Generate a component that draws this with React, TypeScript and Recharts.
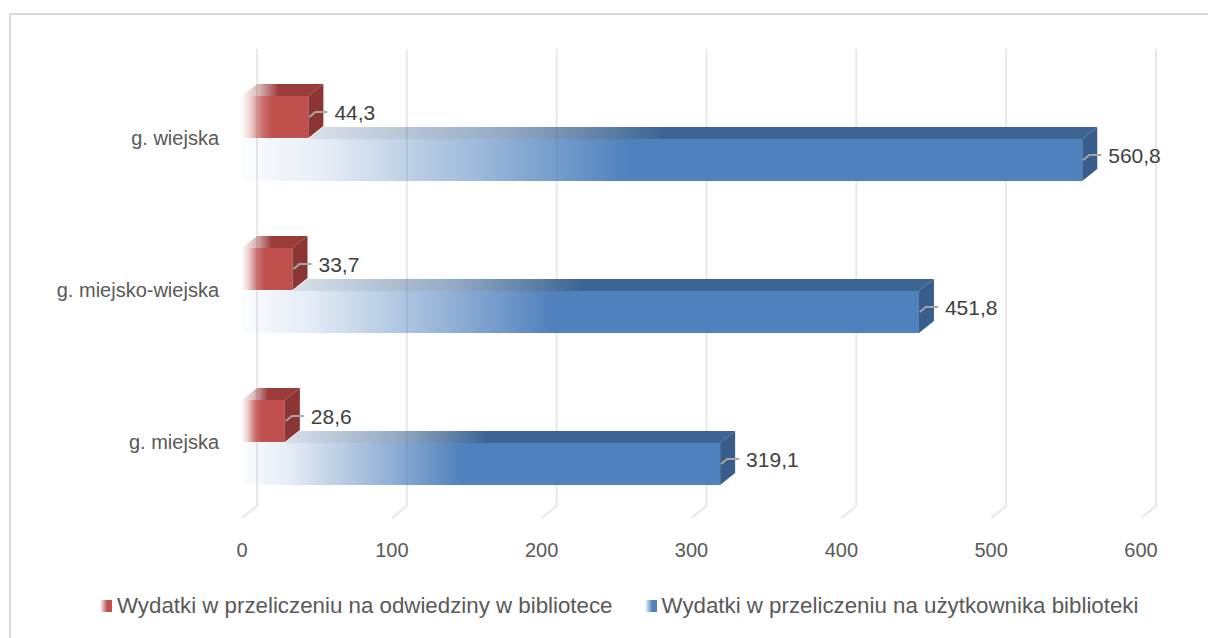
import { BarChart, Bar, XAxis, YAxis, CartesianGrid, Legend, LabelList } from 'recharts';

const categories = ['g. wiejska', 'g. miejsko-wiejska', 'g. miejska'];
const visitSpend = [44.3, 33.7, 28.6];
const userSpend = [560.8, 451.8, 319.1];
const xTicks = [0, 100, 200, 300, 400, 500, 600];

const seriesNames = {
  visit: 'Wydatki w przeliczeniu na odwiedziny w bibliotece',
  user: 'Wydatki w przeliczeniu na użytkownika biblioteki',
};

const data = categories.map((name, i) => ({
  name,
  visit: visitSpend[i],
  user: userSpend[i],
}));

// 3d depth of the bars / walls
const DX = 15;
const DY = 12;

const FONT = '"Liberation Sans", Arial, sans-serif';

const fmt = (v: number) => v.toFixed(1).replace('.', ',');

const RedBar = (props: any) => {
  const { x, y, width, height } = props;
  return (
    <g>
      <polygon
        points={`${x},${y} ${x + width},${y} ${x + width + DX},${y - DY} ${x + DX},${y - DY}`}
        fill="url(#redTop)"
      />
      <rect x={x} y={y} width={width} height={height} fill="url(#redFront)" />
      <polygon
        points={`${x + width},${y} ${x + width + DX},${y - DY} ${x + width + DX},${y + height - DY} ${x + width},${y + height}`}
        fill="#8b3634"
      />
    </g>
  );
};

const BlueBar = (props: any) => {
  const { x, y, width, height, payload } = props;
  // part of the top face hidden behind the red bar above it
  const rw = payload && payload.user ? (width * payload.visit) / payload.user : 0;
  return (
    <g>
      <polygon
        points={`${x + rw},${y} ${x + width},${y} ${x + width + DX},${y - DY} ${x + rw + DX},${y - DY}`}
        fill="url(#blueTop)"
      />
      <rect x={x} y={y} width={width} height={height} fill="url(#blueFront)" />
      <polygon
        points={`${x + width},${y} ${x + width + DX},${y - DY} ${x + width + DX},${y + height - DY} ${x + width},${y + height}`}
        fill="#385d8a"
      />
    </g>
  );
};

const DataLabel = (p: any) => {
  const vb = p.viewBox ?? p;
  const { x, y, width, height } = vb;
  if (x == null) return null;
  const end = x + width;
  const mid = y + height / 2;
  return (
    <g>
      <polyline
        points={`${end + 1},${mid} ${end + 7},${mid - 5} ${end + 19},${mid - 5}`}
        fill="none"
        stroke="#a6a6a6"
        strokeWidth={2}
      />
      <text
        x={end + 26}
        y={mid - 5}
        dominantBaseline="central"
        fill="#404040"
        fontSize={21}
        fontFamily={FONT}
      >
        {fmt(Number(p.value))}
      </text>
    </g>
  );
};

const GridLine = (props: any) => {
  const { x1, y1, y2, index } = props;
  return (
    <path
      key={`grid-${index}`}
      d={`M${x1 + DX},${y1 - DY - 1} L${x1 + DX},${y2 - DY} L${x1},${y2}`}
      fill="none"
      stroke="#e8e8e8"
      strokeWidth={2}
    />
  );
};

const LegendContent = () => (
  <div style={{ display: 'flex', alignItems: 'center', fontFamily: FONT, fontSize: 22.3, color: '#595959' }}>
    <span style={{ display: 'inline-block', width: 12, height: 12, marginRight: 5, background: 'linear-gradient(to right, #ffffff, #c0504d 60%)' }} />
    <span>{seriesNames.visit}</span>
    <span style={{ display: 'inline-block', width: 12, height: 12, marginLeft: 32, marginRight: 5, background: 'linear-gradient(to right, #ffffff, #4f81bd 60%)' }} />
    <span>{seriesNames.user}</span>
  </div>
);

export default function App() {
  return (
    <div style={{ position: 'absolute', left: 0, top: 0, width: 1208, height: 638, overflow: 'hidden', background: '#fff' }}>
      <div
        style={{
          position: 'absolute',
          left: 9,
          top: 13,
          width: 1300,
          height: 700,
          border: '2px solid #d9d9d9',
        }}
      />
      <div style={{ position: 'absolute', left: 0, top: 0 }}>
        <BarChart
          width={1208}
          height={638}
          data={data}
          layout="vertical"
          barSize={42}
          barGap={1}
          margin={{ top: 62, right: 67, bottom: 60, left: 0 }}
        >
          <defs>
            <linearGradient id="redFront" x1="0" y1="0" x2="1" y2="0">
              <stop offset="0" stopColor="#c0504d" stopOpacity={0.03} />
              <stop offset="0.12" stopColor="#c0504d" stopOpacity={0.25} />
              <stop offset="0.3" stopColor="#c0504d" stopOpacity={0.8} />
              <stop offset="0.45" stopColor="#c0504d" stopOpacity={1} />
            </linearGradient>
            <linearGradient id="redTop" x1="0" y1="0" x2="1" y2="0">
              <stop offset="0" stopColor="#9b3c3a" stopOpacity={0.05} />
              <stop offset="0.2" stopColor="#9b3c3a" stopOpacity={0.35} />
              <stop offset="0.45" stopColor="#9b3c3a" stopOpacity={1} />
            </linearGradient>
            <linearGradient id="blueFront" x1="0" y1="0" x2="1" y2="0">
              <stop offset="0" stopColor="#4f81bd" stopOpacity={0.02} />
              <stop offset="0.1" stopColor="#4f81bd" stopOpacity={0.15} />
              <stop offset="0.3" stopColor="#4f81bd" stopOpacity={0.6} />
              <stop offset="0.46" stopColor="#4f81bd" stopOpacity={1} />
            </linearGradient>
            <linearGradient id="blueTop" x1="0" y1="0" x2="1" y2="0">
              <stop offset="0" stopColor="#3d6594" stopOpacity={0.2} />
              <stop offset="0.25" stopColor="#3d6594" stopOpacity={0.55} />
              <stop offset="0.45" stopColor="#3d6594" stopOpacity={1} />
            </linearGradient>
          </defs>
          <CartesianGrid horizontal={false} vertical={GridLine} />
          <XAxis
            type="number"
            domain={[0, 600]}
            ticks={xTicks}
            axisLine={false}
            tickLine={false}
            tickMargin={19}
            height={30}
            tick={{ fill: '#595959', fontSize: 20, fontFamily: FONT }}
          />
          <YAxis
            type="category"
            dataKey="name"
            width={242}
            axisLine={false}
            tickLine={false}
            tickMargin={17}
            tick={{ fill: '#595959', fontSize: 20, fontFamily: FONT }}
          />
          <Legend
            verticalAlign="bottom"
            content={<LegendContent />}
            wrapperStyle={{ top: 593, left: 100, bottom: 'auto', width: 1100, height: 30 }}
          />
          <Bar dataKey="visit" name={seriesNames.visit} fill="#c0504d" shape={RedBar} isAnimationActive={false}>
            <LabelList dataKey="visit" content={DataLabel} />
          </Bar>
          <Bar dataKey="user" name={seriesNames.user} fill="#4f81bd" shape={BlueBar} isAnimationActive={false}>
            <LabelList dataKey="user" content={DataLabel} />
          </Bar>
        </BarChart>
      </div>
    </div>
  );
}
